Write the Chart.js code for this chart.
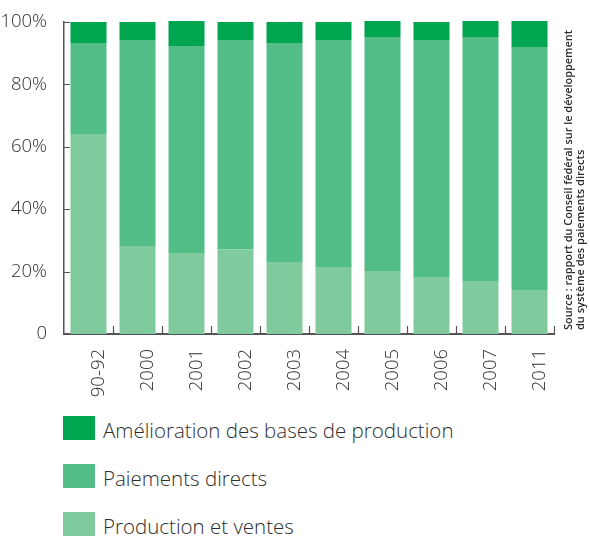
<!DOCTYPE html>
<html>
<head>
<meta charset="utf-8">
<script src="https://cdn.jsdelivr.net/npm/chart.js@4/dist/chart.umd.min.js"></script>
<style>
  body { margin: 0; background: #fff; }
  #wrap { position: relative; width: 590px; height: 536px; }
  #chart { position: absolute; left: 0; top: 0; }
  #legend { position: absolute; left: 63px; top: 416px; font-family: "Open Sans", sans-serif; font-weight: 300; font-size: 20.5px; color: #2e2e2e; }
  .item { display: flex; align-items: flex-end; height: 24px; margin-bottom: 24px; white-space: nowrap; }
  .box { width: 32px; height: 24px; margin-right: 8px; flex: none; }
  .item span { line-height: 24px; position: relative; top: 2px; }
</style>
</head>
<body>
<div id="wrap">
  <canvas id="chart" width="590" height="400"></canvas>
  <div id="legend"></div>
</div>
<script>
var categories = ['90-92', '2000', '2001', '2002', '2003', '2004', '2005', '2006', '2007', '2011'];
var productionVentes = [64.1, 28.2, 26.0, 27.2, 23.1, 21.2, 20.2, 18.3, 17.0, 14.1];
var paiementsDirects = [29.2, 66.0, 66.3, 67.0, 70.2, 73.0, 75.0, 75.9, 78.2, 77.9];
var ameliorationBases = [6.7, 5.8, 8.0, 5.8, 6.7, 5.8, 5.1, 5.8, 5.1, 8.3];
var yTicks = [0, 20, 40, 60, 80, 100];
var sourceLines = [
  'Source : rapport du Conseil fédéral sur le développement',
  'du système des paiements directs'
];

var textColor = '#2e2e2e';
var axisColor = '#555555';

var datasets = [
  { label: 'Production et ventes', data: productionVentes, backgroundColor: '#80cb9d' },
  { label: 'Paiements directs', data: paiementsDirects, backgroundColor: '#52bd86' },
  { label: 'Amélioration des bases de production', data: ameliorationBases, backgroundColor: '#00a550' }
];
datasets.forEach(function(ds) {
  ds.barPercentage = 0.735;
  ds.categoryPercentage = 1;
  ds.borderWidth = 0;
  ds.clip = false;
});

// inward ticks on both axes + rotated source note
var axisDecor = {
  id: 'axisDecor',
  beforeDatasetsDraw: function(chart) {
    var ctx = chart.ctx;
    var area = chart.chartArea;
    var x = chart.scales.x;
    var y = chart.scales.y;
    ctx.save();
    ctx.strokeStyle = axisColor;
    ctx.lineWidth = 1.2;
    ctx.beginPath();
    yTicks.forEach(function(v) {
      var py = Math.round(y.getPixelForValue(v)) + 0.5;
      ctx.moveTo(area.left, py);
      ctx.lineTo(area.left + 6, py);
    });
    var half = (x.getPixelForValue(1) - x.getPixelForValue(0)) / 2;
    for (var i = 0; i < categories.length; i++) {
      var px = Math.round(x.getPixelForValue(i) + half) + 0.5;
      ctx.moveTo(px, area.bottom);
      ctx.lineTo(px, area.bottom - 8);
    }
    ctx.stroke();
    ctx.restore();
  },
  afterDraw: function(chart) {
    var ctx = chart.ctx;
    var area = chart.chartArea;
    ctx.save();
    ctx.fillStyle = '#2a2a2a';
    ctx.font = '600 11px "Open Sans", sans-serif';
    ctx.textAlign = 'left';
    ctx.textBaseline = 'alphabetic';
    ctx.translate(572, area.bottom - 4);
    ctx.rotate(-Math.PI / 2);
    ctx.fillText(sourceLines[0], 0, 0, 300);
    ctx.fillText(sourceLines[1], 0, 12, 300);
    ctx.restore();
  }
};

new Chart(document.getElementById('chart'), {
  type: 'bar',
  data: { labels: categories, datasets: datasets },
  options: {
    responsive: false,
    animation: false,
    layout: { padding: { top: 22, right: 36, left: 0, bottom: 0 } },
    plugins: {
      legend: { display: false },
      tooltip: { enabled: false }
    },
    scales: {
      x: {
        stacked: true,
        grid: { display: false },
        border: { color: axisColor, width: 2 },
        ticks: {
          color: textColor,
          font: { family: '"Open Sans", sans-serif', size: 18.5, weight: '300' },
          minRotation: 90,
          maxRotation: 90,
          padding: 7,
          labelOffset: 10
        },
        afterFit: function(scale) { scale.height = 66; }
      },
      y: {
        stacked: true,
        min: 0,
        max: 100,
        grid: { display: false },
        border: { color: axisColor, width: 1.5 },
        ticks: {
          stepSize: 20,
          color: textColor,
          padding: 9,
          font: { family: '"Open Sans", sans-serif', size: 18.5, weight: '300' },
          callback: function(v) { return v === 0 ? '0' : v + '%'; }
        },
        afterFit: function(scale) { scale.width = 64; }
      }
    }
  },
  plugins: [axisDecor]
});

var legend = document.getElementById('legend');
datasets.slice().reverse().forEach(function(ds) {
  var item = document.createElement('div');
  item.className = 'item';
  var box = document.createElement('div');
  box.className = 'box';
  box.style.background = ds.backgroundColor;
  var txt = document.createElement('span');
  txt.textContent = ds.label;
  item.appendChild(box);
  item.appendChild(txt);
  legend.appendChild(item);
});
</script>
</body>
</html>
